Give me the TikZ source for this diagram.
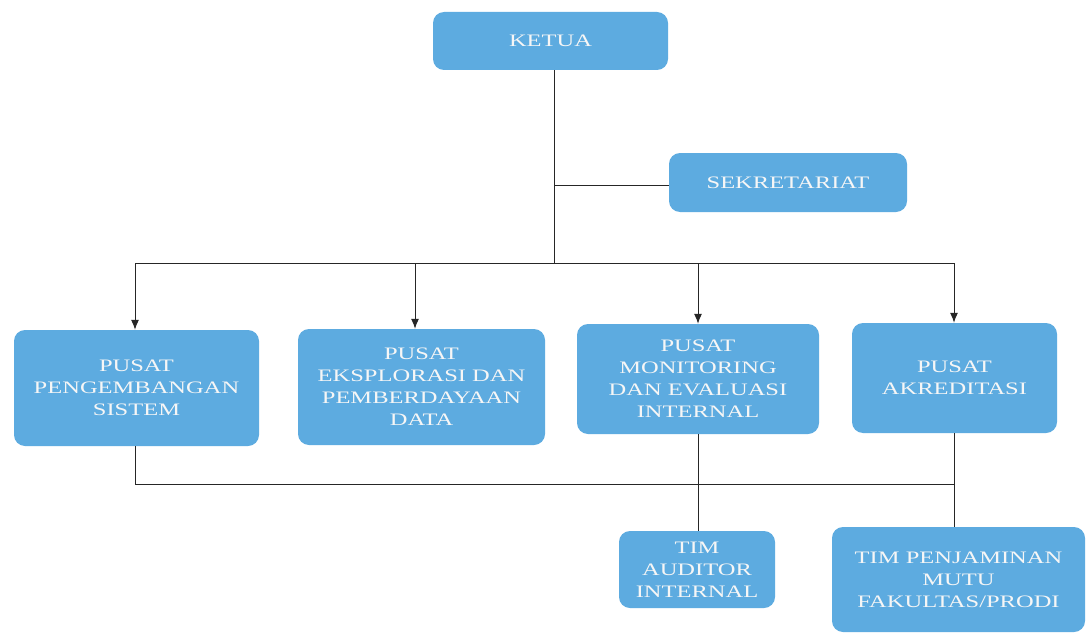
\documentclass[tikz,border=0pt]{standalone}
\usepackage{fontspec}
\newfontfamily\boxfont[FakeStretch=1.4]{Liberation Serif}
\usetikzlibrary{arrows.meta}
\definecolor{boxblue}{RGB}{93,171,224}
\definecolor{boxtext}{RGB}{246,246,246}
\begin{document}
\begin{tikzpicture}[x=1pt,y=-1pt,
  orgbox/.style={draw=none,fill=boxblue,rounded corners=11pt,inner sep=2pt,
    align=center,text=boxtext,font=\boxfont\fontsize{17.5}{22}\selectfont},
  link/.style={draw=black!85,line width=1pt},
  arr/.style={link,-{Latex[length=10pt,width=8pt]}}]
\useasboundingbox (0,0) rectangle (1087,634);
\fill[white] (0,0) rectangle (1087,634);

\node[orgbox,minimum width=235pt,minimum height=58pt] (ketua) at (550.5,41) {KETUA};
\node[orgbox,minimum width=238pt,minimum height=59pt] (sekr) at (788,182.5) {SEKRETARIAT};
\node[orgbox,minimum width=245pt,minimum height=116pt] (pps) at (136.5,388) {PUSAT\\PENGEMBANGAN\\SISTEM};
\node[orgbox,minimum width=247pt,minimum height=116pt] (pepd) at (421.5,387) {PUSAT\\EKSPLORASI DAN\\PEMBERDAYAAN\\DATA};
\node[orgbox,minimum width=242pt,minimum height=110pt] (pmei) at (698,379) {PUSAT\\MONITORING\\DAN EVALUASI\\INTERNAL};
\node[orgbox,minimum width=205pt,minimum height=110pt] (pa) at (954.5,378) {PUSAT\\AKREDITASI};
\node[orgbox,minimum width=156pt,minimum height=77pt] (tai) at (697,569.5) {TIM\\AUDITOR\\INTERNAL};
\node[orgbox,minimum width=253pt,minimum height=105pt] (tpm) at (958.5,579.5) {TIM PENJAMINAN\\MUTU\\FAKULTAS/PRODI};

% top trunk and bus
\coordinate (trunk) at (554,263);
\coordinate (sj) at (554,185);
\coordinate (busL) at (135,263);
\coordinate (busB) at (415,263);
\coordinate (busC) at (698,263);
\coordinate (busR) at (954,263);
\draw[link] (ketua.south -| trunk) -- (trunk);
\draw[link] (sj) -- (sekr.west |- sj);
\draw[link] (busL) -- (busR);
\draw[arr] (busL) -- (pps.north -| busL);
\draw[arr] (busB) -- (pepd.north -| busB);
\draw[arr] (busC) -- (pmei.north -| busC);
\draw[arr] (busR) -- (pa.north -| busR);

% bottom bus
\coordinate (lowL) at (135,484);
\coordinate (lowR) at (954,484);
\draw[link] (pps.south -| lowL) -- (lowL) -- (lowR);
\draw[link] (pmei.south) -- (tai.north -| pmei.south);
\draw[link] (pa.south -| lowR) -- (tpm.north -| lowR);
\end{tikzpicture}
\end{document}
